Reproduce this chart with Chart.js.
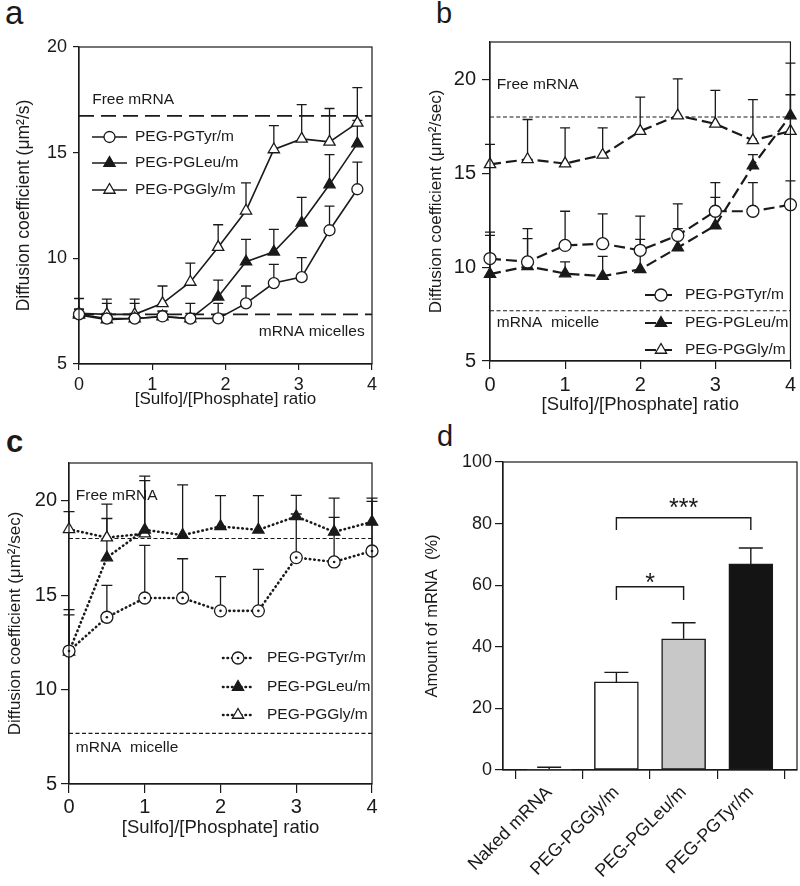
<!DOCTYPE html>
<html><head><meta charset="utf-8">
<script src="https://cdn.jsdelivr.net/npm/chart.js@4.4.0/dist/chart.umd.min.js"></script>
<style>
body{margin:0;background:#fff;width:800px;height:886px;position:relative;overflow:hidden;font-family:"Liberation Sans",Arial,sans-serif;}
canvas{position:absolute;}
.lab{position:absolute;line-height:1;color:#1a1a1a;font-family:"Liberation Sans",Arial,sans-serif;}
</style></head><body>
<div class="lab" style="left:5px;top:-4px;font-size:33px">a</div>
<div class="lab" style="left:436px;top:-1px;font-size:29px">b</div>
<div class="lab" style="left:6px;top:426px;font-size:31px;font-weight:bold">c</div>
<div class="lab" style="left:437px;top:422px;font-size:29px">d</div>
<canvas id="ca" width="400" height="414" style="left:0;top:0"></canvas>
<canvas id="cb" width="400" height="420" style="left:400px;top:0"></canvas>
<canvas id="cc" width="400" height="420" style="left:0;top:420px"></canvas>
<canvas id="cd" width="400" height="466" style="left:400px;top:420px"></canvas>
<script>
const FONT = '"Liberation Sans", Arial, Helvetica, sans-serif';
const INK = '#1a1a1a';

// ---------- shared ticks ----------
const xTicksRatio = [0, 1, 2, 3, 4];
const yTicksA = [5, 10, 15, 20];
const yTicksBC = [5, 10, 15, 20];
const seriesNames = ['PEG-PGTyr/m', 'PEG-PGLeu/m', 'PEG-PGGly/m'];

// ---------- panel a ----------
const ratioA = [0, 0.38, 0.76, 1.14, 1.52, 1.9, 2.28, 2.66, 3.04, 3.42, 3.8];
const tyrA   = [7.35, 7.15, 7.15, 7.25, 7.15, 7.16, 7.87, 8.83, 9.11, 11.33, 13.27];
const tyrAHi = [7.6, 7.4, 7.4, 7.5, 7.4, 7.87, 8.69, 9.71, 10.03, 12.47, 14.55];
const leuA   = [7.32, 7.1, 7.15, 7.24, 7.15, 8.18, 9.84, 10.31, 11.68, 13.49, 15.43];
const leuAHi = [7.6, 7.87, 7.87, 7.5, 7.87, 8.97, 10.9, 11.37, 12.88, 14.91, 16.53];
const glyA   = [7.4, 7.35, 7.35, 7.87, 8.88, 10.53, 12.25, 15.15, 15.65, 15.51, 16.41];
const glyAHi = [8.1, 8.07, 8.07, 8.69, 9.77, 11.59, 13.57, 16.28, 17.27, 17.09, 18.08];
const freeA = 16.74, micelleA = 7.35;

// ---------- panel b ----------
const ratioBC = [0, 0.5, 1, 1.5, 2, 2.5, 3, 3.5, 4];
const tyrB   = [10.46, 10.28, 11.16, 11.25, 10.9, 11.69, 12.98, 12.98, 13.33];
const tyrBHi = [11.87, 12.05, 12.98, 12.84, 12.72, 13.37, 14.51, 14.51, 14.6];
const leuB   = [9.63, 10.05, 9.66, 9.52, 9.88, 11.04, 12.22, 15.41, 18.08];
const leuBHi = [11.69, 11.52, 10.28, 10.58, 11.48, 12.05, 13.72, 16.0, 20.87];
const glyB   = [15.48, 15.75, 15.52, 15.98, 17.25, 18.08, 17.64, 16.76, 17.25];
const glyBHi = [16.54, 17.87, 17.42, 17.42, 19.06, 20.04, 19.42, 18.93, 19.19];
const freeB = 18.0, micelleB = 7.68;

// ---------- panel c ----------
const tyrC   = [12.04, 13.83, 14.85, 14.85, 14.17, 14.17, 16.99, 16.76, 17.34];
const tyrCHi = [14.23, 15.52, 17.64, 16.93, 15.98, 16.37, 19.3, 19.12, 19.97];
const leuC   = [12.0, 16.99, 18.46, 18.18, 18.64, 18.46, 19.17, 18.35, 18.88];
const leuCHi = [13.96, 19.82, 21.3, 20.84, 20.27, 20.27, 20.29, 20.14, 20.14];
const glyC   = [18.49, 18.05, 18.26];
const glyCHi = [19.42, 19.06, 21.07];
const freeC = 18.0, micelleC = 7.68;

// ---------- panel d ----------
const groupsD = ['Naked mRNA', 'PEG-PGGly/m', 'PEG-PGLeu/m', 'PEG-PGTyr/m'];
const amountD = [0, 28.6, 42.6, 66.9];
const amountDHi = [0.9, 31.7, 47.8, 72.1];
const yTicksD = [0, 20, 40, 60, 80, 100];
const sigD = [
  { from: 1, to: 2, level: 59.5, foot: 55.2, mark: '*', markAt: 62.3 },
  { from: 1, to: 3, level: 81.9, foot: 77.9, mark: '***', markAt: 86.7 }
];

// ---------- helpers ----------
function drawMarker(ctx, style, x, y, r, fill, lw, dot) {
  ctx.save();
  ctx.beginPath();
  if (style === 'circle') {
    ctx.arc(x, y, r, 0, Math.PI * 2);
  } else {
    const a = 2 * Math.PI / 3;
    ctx.moveTo(x, y - r);
    ctx.lineTo(x + r * Math.sin(a), y - r * Math.cos(a));
    ctx.lineTo(x + r * Math.sin(2 * a), y - r * Math.cos(2 * a));
    ctx.closePath();
  }
  ctx.fillStyle = fill; ctx.fill();
  ctx.setLineDash([]);
  ctx.lineWidth = lw; ctx.strokeStyle = INK; ctx.stroke();
  if (dot) { ctx.beginPath(); ctx.arc(x, y, 1.3, 0, Math.PI * 2); ctx.fillStyle = INK; ctx.fill(); }
  ctx.restore();
}

const panelPlugin = {
  id: 'panel',
  beforeDatasetsDraw(chart, args, o) {
    const ctx = chart.ctx, xs = chart.scales.x, ys = chart.scales.y;
    ctx.save();
    ctx.strokeStyle = INK; ctx.lineWidth = o.errWidth || 1.3; ctx.setLineDash([]);
    (o.err || []).forEach(e => {
      e.val.forEach((v, j) => {
        const h = e.hi[j];
        const px = xs.getPixelForValue(e.xs[j]);
        const p0 = ys.getPixelForValue(v), p1 = ys.getPixelForValue(h);
        ctx.beginPath();
        ctx.moveTo(px, p0); ctx.lineTo(px, p1);
        ctx.moveTo(px - o.cap / 2, p1); ctx.lineTo(px + o.cap / 2, p1);
        ctx.stroke();
      });
    });
    ctx.restore();
  },
  afterDatasetsDraw(chart, args, o) {
    const ctx = chart.ctx, xs = chart.scales.x, ys = chart.scales.y, ca = chart.chartArea;
    if (o.dotDataset != null) {
      const meta = chart.getDatasetMeta(o.dotDataset);
      ctx.save(); ctx.fillStyle = INK;
      meta.data.forEach(p => { ctx.beginPath(); ctx.arc(p.x, p.y, 1.3, 0, Math.PI * 2); ctx.fill(); });
      ctx.restore();
    }
    ctx.save();
    ctx.strokeStyle = INK; ctx.lineWidth = 1.2; ctx.setLineDash([]);
    ctx.strokeRect(ca.left, ca.top, ca.right - ca.left, ca.bottom - ca.top);
    ctx.restore();
    (o.notes || []).forEach(n => {
      ctx.save();
      ctx.font = (n.size || 15.5) + 'px ' + FONT;
      ctx.fillStyle = INK; ctx.textAlign = n.align || 'left'; ctx.textBaseline = 'middle';
      ctx.fillText(n.text, xs.getPixelForValue(n.x), ys.getPixelForValue(n.y));
      ctx.restore();
    });
    if (o.legend) {
      const L = o.legend;
      L.rows.forEach((row, i) => {
        const ds = chart.data.datasets[row];
        const y = ca.top + L.dy[i];
        const x0 = ca.left + L.dx;
        ctx.save();
        ctx.strokeStyle = INK; ctx.lineWidth = ds.borderWidth; ctx.setLineDash(ds.borderDash || []);
        ctx.lineCap = ds.borderCapStyle || 'butt';
        ctx.beginPath(); ctx.moveTo(x0, y); ctx.lineTo(x0 + L.len, y); ctx.stroke();
        ctx.restore();
        drawMarker(ctx, ds.pointStyle, x0 + L.len / 2, y, ds.pointRadius, ds.pointBackgroundColor, ds.pointBorderWidth, o.dotDataset === row);
        ctx.save();
        ctx.font = L.size + 'px ' + FONT; ctx.fillStyle = INK; ctx.textBaseline = 'middle';
        ctx.fillText(ds.label, x0 + L.textDx, y);
        ctx.restore();
      });
    }
    (o.sig || []).forEach(s => {
      const x1 = xs.getPixelForValue(s.from), x2 = xs.getPixelForValue(s.to);
      const yl = ys.getPixelForValue(s.level), yf = ys.getPixelForValue(s.foot);
      ctx.save();
      ctx.strokeStyle = INK; ctx.lineWidth = 1.4;
      ctx.beginPath(); ctx.moveTo(x1, yf); ctx.lineTo(x1, yl); ctx.lineTo(x2, yl); ctx.lineTo(x2, yf); ctx.stroke();
      ctx.font = '25px ' + FONT; ctx.fillStyle = INK; ctx.textAlign = 'center'; ctx.textBaseline = 'alphabetic';
      const m = ctx.measureText(s.mark);
      const yc = ys.getPixelForValue(s.markAt);
      ctx.fillText(s.mark, (x1 + x2) / 2, yc + (m.actualBoundingBoxAscent - m.actualBoundingBoxDescent) / 2);
      ctx.restore();
    });
  }
};

function seriesDS(label, xs, ys, style, fill, r, line) {
  return {
    label, data: ys.map((y, i) => ({ x: xs[i], y })),
    borderColor: INK, borderWidth: line.width, borderDash: line.dash, borderCapStyle: line.cap || 'butt',
    pointStyle: style, pointRadius: r, pointHoverRadius: r, pointBackgroundColor: fill,
    pointBorderColor: INK, pointBorderWidth: 1.3, tension: 0, clip: false, fill: false
  };
}
function refDS(y, dash, width) {
  return { label: '', data: [{ x: 0, y }, { x: 4, y }], borderColor: INK, borderWidth: width,
    borderDash: dash, pointRadius: 0, clip: false, fill: false };
}
function xAxis(ticksArr, min, max, tickLen, pad, height, title, titleSize, titlePb, tickSize) {
  return {
    type: 'linear', min, max,
    afterBuildTicks: s => { s.ticks = ticksArr.map(v => ({ value: v })); },
    afterFit: s => { s.height = height; },
    ticks: { font: { family: FONT, size: tickSize }, color: INK, padding: pad, autoSkip: false, maxRotation: 0, minRotation: 0 },
    grid: { display: true, drawOnChartArea: false, drawTicks: true, tickLength: tickLen, color: INK, lineWidth: 1.2 },
    border: { display: true, color: INK, width: 1.2 },
    title: { display: !!title, text: title, font: { family: FONT, size: titleSize }, color: INK, padding: { top: 0, bottom: titlePb } }
  };
}
function yAxis(ticksArr, min, max, tickLen, pad, width, title, titleSize, titlePt, tickSize) {
  return {
    type: 'linear', min, max,
    afterBuildTicks: s => { s.ticks = ticksArr.map(v => ({ value: v })); },
    afterFit: s => { s.width = width; },
    ticks: { font: { family: FONT, size: tickSize }, color: INK, padding: pad, autoSkip: false },
    grid: { display: true, drawOnChartArea: false, drawTicks: true, tickLength: tickLen, color: INK, lineWidth: 1.2 },
    border: { display: true, color: INK, width: 1.2 },
    title: { display: true, text: title, font: { family: FONT, size: titleSize }, color: INK, padding: { top: titlePt, bottom: 0 } }
  };
}
function baseOpts(padding, scales, panel) {
  return {
    animation: false, responsive: false, events: [],
    layout: { padding },
    scales,
    plugins: { legend: { display: false }, tooltip: { enabled: false }, panel }
  };
}

// ---------- panel a ----------
const solid = { width: 1.6, dash: [] };
new Chart(document.getElementById('ca'), {
  type: 'line',
  data: { datasets: [
    seriesDS(seriesNames[0], ratioA, tyrA, 'circle', '#fff', 5.5, solid),
    seriesDS(seriesNames[1], ratioA, leuA, 'triangle', INK, 6.5, solid),
    seriesDS(seriesNames[2], ratioA, glyA, 'triangle', '#fff', 6.5, solid),
    refDS(freeA, [15, 7], 1.8),
    refDS(micelleA, [15, 7], 1.8)
  ]},
  options: baseOpts({ left: 0, right: 28, top: 47, bottom: 0 }, {
    x: xAxis(xTicksRatio, 0, 4, 6, 4, 50, '[Sulfo]/[Phosphate] ratio', 17, 4, 18),
    y: yAxis(yTicksA, 5, 20, 6, 6, 79, 'Diffusion coefficient (μm²/s)', 17.5, 13.5, 18)
  }, {
    cap: 10,
    err: [
      { xs: ratioA, val: glyA, hi: glyAHi },
      { xs: ratioA, val: leuA, hi: leuAHi },
      { xs: ratioA, val: tyrA, hi: tyrAHi }
    ],
    notes: [
      { text: 'Free mRNA', x: 0.18, y: 17.49 },
      { text: 'mRNA micelles', x: 3.9, y: 6.51, align: 'right' }
    ],
    legend: { rows: [0, 1, 2], dx: 13, len: 35, textDx: 43, dy: [90, 116, 143], size: 15.5 }
  }),
  plugins: [panelPlugin]
});

// ---------- panel b ----------
const dashed = { width: 2.2, dash: [11, 5] };
new Chart(document.getElementById('cb'), {
  type: 'line',
  data: { datasets: [
    seriesDS(seriesNames[0], ratioBC, tyrB, 'circle', '#fff', 6, dashed),
    seriesDS(seriesNames[1], ratioBC, leuB, 'triangle', INK, 6.5, dashed),
    seriesDS(seriesNames[2], ratioBC, glyB, 'triangle', '#fff', 6.5, dashed),
    refDS(freeB, [4, 2.5], 1.1),
    refDS(micelleB, [4, 2.5], 1.1)
  ]},
  options: baseOpts({ left: 0, right: 7, top: 42, bottom: 2 }, {
    x: xAxis(xTicksRatio, 0, 4, 8, 4, 57, '[Sulfo]/[Phosphate] ratio', 18.5, 2, 20),
    y: yAxis(yTicksBC, 5, 22, 8, 6, 90, 'Diffusion coefficient (μm²/sec)', 17, 26.5, 20)
  }, {
    cap: 10,
    err: [
      { xs: ratioBC, val: glyB, hi: glyBHi },
      { xs: ratioBC, val: leuB, hi: leuBHi },
      { xs: ratioBC, val: tyrB, hi: tyrBHi }
    ],
    notes: [
      { text: 'Free mRNA', x: 0.09, y: 19.74 },
      { text: 'mRNA  micelle', x: 0.09, y: 7.04 }
    ],
    legend: { rows: [0, 1, 2], dx: 155, len: 32, textDx: 40, dy: [253, 281, 308], size: 15.5 }
  }),
  plugins: [panelPlugin]
});

// ---------- panel c ----------
const dotted = { width: 2.6, dash: [0.5, 4], cap: 'round' };
new Chart(document.getElementById('cc'), {
  type: 'line',
  data: { datasets: [
    seriesDS(seriesNames[0], ratioBC, tyrC, 'circle', '#fff', 6, dotted),
    seriesDS(seriesNames[1], ratioBC, leuC, 'triangle', INK, 6.5, dotted),
    seriesDS(seriesNames[2], ratioBC, glyC, 'triangle', '#fff', 6.5, dotted),
    refDS(freeC, [4, 2.5], 1.1),
    refDS(micelleC, [4, 2.5], 1.1)
  ]},
  options: baseOpts({ left: 0, right: 28, top: 43, bottom: 0 }, {
    x: xAxis(xTicksRatio, 0, 4, 9, 2, 56, '[Sulfo]/[Phosphate] ratio', 18.5, 1, 20),
    y: yAxis(yTicksBC, 5, 22, 8, 4, 69, 'Diffusion coefficient (μm²/sec)', 17, 5, 20)
  }, {
    cap: 11,
    dotDataset: 0,
    err: [
      { xs: ratioBC, val: glyC, hi: glyCHi },
      { xs: ratioBC, val: leuC, hi: leuCHi },
      { xs: ratioBC, val: tyrC, hi: tyrCHi }
    ],
    notes: [
      { text: 'Free mRNA', x: 0.09, y: 20.25 },
      { text: 'mRNA  micelle', x: 0.09, y: 6.9 }
    ],
    legend: { rows: [0, 1, 2], dx: 154, len: 30, textDx: 44, dy: [195, 224, 252], size: 15.5 }
  }),
  plugins: [panelPlugin]
});

// ---------- panel d ----------
const barFillD = ['#ffffff', '#ffffff', '#c8c8c8', '#141414'];
const barPosD = groupsD.map((g, i) => i);
new Chart(document.getElementById('cd'), {
  type: 'bar',
  data: { datasets: [{
    data: amountD.map((v, i) => ({ x: barPosD[i], y: v })),
    backgroundColor: barFillD, borderColor: INK, borderWidth: [0, 1.5, 1.5, 1.5],
    borderSkipped: false, barThickness: 44, clip: false
  }]},
  options: baseOpts({ left: 0, right: 3, top: 42, bottom: 0 }, {
    x: {
      type: 'linear', min: -0.687, max: 3.687, offset: false,
      afterBuildTicks: s => { s.ticks = barPosD.map(v => ({ value: v })); },
      afterFit: s => { s.height = 116; },
      ticks: { font: { family: FONT, size: 18 }, color: INK, padding: 3, autoSkip: false,
        maxRotation: 45, minRotation: 45, callback: v => groupsD[v] },
      grid: { display: true, drawOnChartArea: false, drawTicks: true, tickLength: 9, color: INK, lineWidth: 1.2 },
      border: { display: true, color: INK, width: 1.2 }
    },
    y: yAxis(yTicksD, 0, 100, 8, 3, 103, 'Amount of mRNA  (%)', 16.5, 23, 18)
  }, {
    cap: 24, errWidth: 1.4,
    err: [{ xs: barPosD, val: amountD, hi: amountDHi }],
    sig: sigD
  }),
  plugins: [panelPlugin]
});
</script>
</body></html>
